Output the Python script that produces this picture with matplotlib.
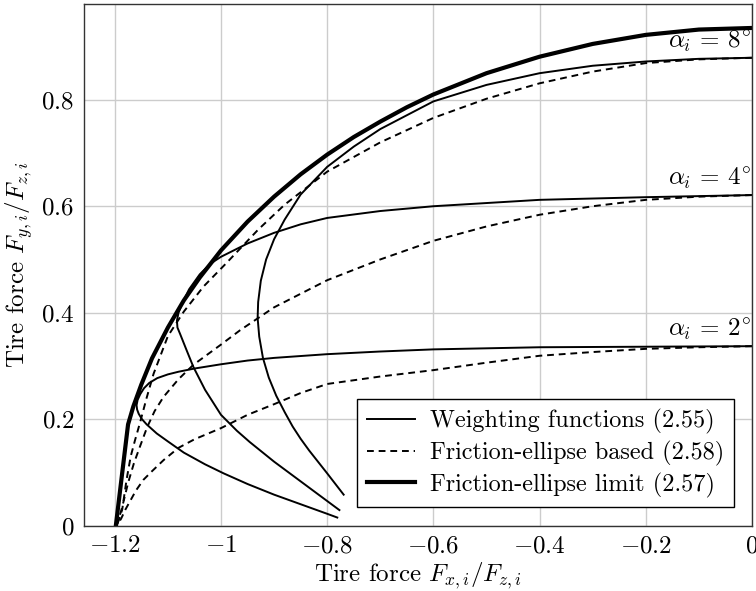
import matplotlib
matplotlib.use("Agg")
import matplotlib.pyplot as plt

plt.rcParams['font.family'] = 'serif'
plt.rcParams['font.serif'] = ['cmr10']
plt.rcParams['mathtext.fontset'] = 'cm'
plt.rcParams['axes.formatter.use_mathtext'] = True

# friction-ellipse limit (2.57)
lim_x = [-1.198, -1.175, -1.165, -1.15, -1.13, -1.1, -1.07, -1.04, -1.0, -0.95, -0.9, -0.85,
         -0.8, -0.75, -0.7, -0.65, -0.6, -0.5, -0.4, -0.3, -0.2, -0.1, 0.0]
lim_y = [0.0, 0.19, 0.224, 0.265, 0.314, 0.372, 0.423, 0.466, 0.517, 0.571, 0.618, 0.66,
         0.697, 0.73, 0.759, 0.786, 0.81, 0.85, 0.881, 0.905, 0.922, 0.932, 0.935]

# weighting functions (2.55)
w2_x = [0.0, -0.2, -0.4, -0.6, -0.7, -0.8, -0.9, -0.95, -1.0, -1.05, -1.08, -1.1, -1.12,
        -1.135, -1.145, -1.152, -1.157, -1.159, -1.158, -1.155, -1.149, -1.14, -1.121,
        -1.1, -1.07, -1.03, -0.995, -0.95, -0.9, -0.85, -0.8, -0.781]
w2_y = [0.337, 0.336, 0.335, 0.331, 0.327, 0.322, 0.315, 0.31, 0.303, 0.295, 0.289, 0.284,
        0.277, 0.268, 0.258, 0.247, 0.236, 0.226, 0.218, 0.21, 0.2, 0.19, 0.173,
        0.158, 0.137, 0.115, 0.098, 0.078, 0.058, 0.04, 0.022, 0.015]

w4_x = [0.0, -0.2, -0.4, -0.6, -0.7, -0.8, -0.85, -0.9, -0.95, -1.0, -1.02, -1.04, -1.06,
        -1.072, -1.08, -1.083, -1.082, -1.077, -1.065, -1.052, -1.03, -1.0, -0.97, -0.946,
        -0.9, -0.85, -0.8, -0.777]
w4_y = [0.621, 0.617, 0.612, 0.6, 0.591, 0.578, 0.566, 0.55, 0.53, 0.505, 0.492, 0.472, 0.444,
        0.42, 0.4, 0.385, 0.372, 0.36, 0.33, 0.298, 0.255, 0.208, 0.178, 0.157,
        0.12, 0.083, 0.046, 0.029]

w8_x = [0.0, -0.1, -0.2, -0.3, -0.4, -0.5, -0.6, -0.7, -0.75, -0.8, -0.85, -0.88, -0.9,
        -0.915, -0.925, -0.93, -0.931, -0.928, -0.921, -0.91, -0.896, -0.88, -0.865,
        -0.85, -0.834, -0.8, -0.769]
w8_y = [0.879, 0.877, 0.872, 0.864, 0.85, 0.828, 0.797, 0.745, 0.712, 0.674, 0.622, 0.575,
        0.538, 0.5, 0.46, 0.42, 0.39, 0.355, 0.315, 0.278, 0.244, 0.213, 0.186,
        0.163, 0.141, 0.098, 0.058]

# friction-ellipse based (2.58)
e2_x = [0.0, -0.1, -0.2, -0.3, -0.4, -0.5, -0.6, -0.7, -0.8, -0.85, -0.9, -0.95, -1.0,
        -1.05, -1.08, -1.108, -1.13, -1.146, -1.16, -1.17, -1.18, -1.188, -1.196]
e2_y = [0.337, 0.335, 0.332, 0.326, 0.319, 0.306, 0.292, 0.28, 0.266, 0.249, 0.228, 0.208,
        0.183, 0.162, 0.146, 0.123, 0.102, 0.086, 0.066, 0.048, 0.03, 0.013, 0.0]

e4_x = [0.0, -0.1, -0.2, -0.3, -0.4, -0.5, -0.6, -0.7, -0.8, -0.9, -0.964, -1.0, -1.052,
        -1.08, -1.108, -1.125, -1.139, -1.152, -1.164, -1.175, -1.186, -1.196]
e4_y = [0.621, 0.618, 0.612, 0.6, 0.584, 0.562, 0.535, 0.5, 0.461, 0.41, 0.367, 0.34, 0.302,
        0.275, 0.242, 0.215, 0.185, 0.15, 0.117, 0.08, 0.035, 0.0]

e8_x = [0.0, -0.1, -0.2, -0.3, -0.4, -0.5, -0.6, -0.7, -0.8, -0.88, -0.93, -0.99, -1.033,
        -1.07, -1.1, -1.127, -1.14, -1.152, -1.162, -1.17, -1.178, -1.186, -1.196]
e8_y = [0.879, 0.876, 0.869, 0.853, 0.831, 0.802, 0.766, 0.72, 0.665, 0.603, 0.556, 0.493,
        0.449, 0.402, 0.356, 0.285, 0.24, 0.195, 0.16, 0.13, 0.085, 0.03, 0.0]

angle_labels = [r'$\alpha_i\,=\,2^{\!\circ}$', r'$\alpha_i\,=\,4^{\!\circ}$',
                r'$\alpha_i\,=\,8^{\!\circ}$']
label_y = [0.337, 0.621, 0.879]

fig = plt.figure(figsize=(7.56, 5.91), dpi=100)
ax = fig.add_axes([0.1111, 0.1108, 0.8836, 0.8824])

lw = 1.4
dash = (3.5, 2.5)
ax.plot(w2_x, w2_y, color='black', lw=lw, label='Weighting functions (2.55)')
ax.plot(w4_x, w4_y, color='black', lw=lw)
ax.plot(w8_x, w8_y, color='black', lw=lw)
ax.plot(e2_x, e2_y, color='black', lw=lw, dashes=dash, label='Friction-ellipse based (2.58)')
ax.plot(e4_x, e4_y, color='black', lw=lw, dashes=dash)
ax.plot(e8_x, e8_y, color='black', lw=lw, dashes=dash)
ax.plot(lim_x, lim_y, color='black', lw=3.0, label='Friction-ellipse limit (2.57)')

for lab, yy in zip(angle_labels, label_y):
    ax.text(-0.002, yy + 0.007, lab, ha='right', va='bottom', fontsize=18)

ax.set_xlim(-1.258, 0)
ax.set_ylim(0, 0.98)
ax.set_xticks([-1.2, -1.0, -0.8, -0.6, -0.4, -0.2, 0.0])
ax.set_xticklabels([r'$-1.2$', r'$-1$', r'$-0.8$', r'$-0.6$', r'$-0.4$', r'$-0.2$', r'$0$'])
ax.set_yticks([0, 0.2, 0.4, 0.6, 0.8])
ax.set_yticklabels([r'$0$', r'$0.2$', r'$0.4$', r'$0.6$', r'$0.8$'])
ax.tick_params(length=0, pad=7, labelsize=18)
ax.grid(True, color='#cccccc', lw=1.0)
ax.set_axisbelow(True)
for s in ax.spines.values():
    s.set_color('#333333')
    s.set_linewidth(1.0)

ax.set_xlabel(r'Tire force $F_{x,i}/F_{z,i}$', fontsize=18, labelpad=2)
ax.set_ylabel(r'Tire force $F_{y,i}/F_{z,i}$', fontsize=18, labelpad=4)

leg = ax.legend(loc='lower right', fontsize=17.5, fancybox=False, framealpha=1,
                edgecolor='black', borderaxespad=0.75, handlelength=2.0,
                labelspacing=0.27, borderpad=0.4, handletextpad=0.6)
leg.get_frame().set_linewidth(1.0)

fig.savefig('out.png', dpi=100)
